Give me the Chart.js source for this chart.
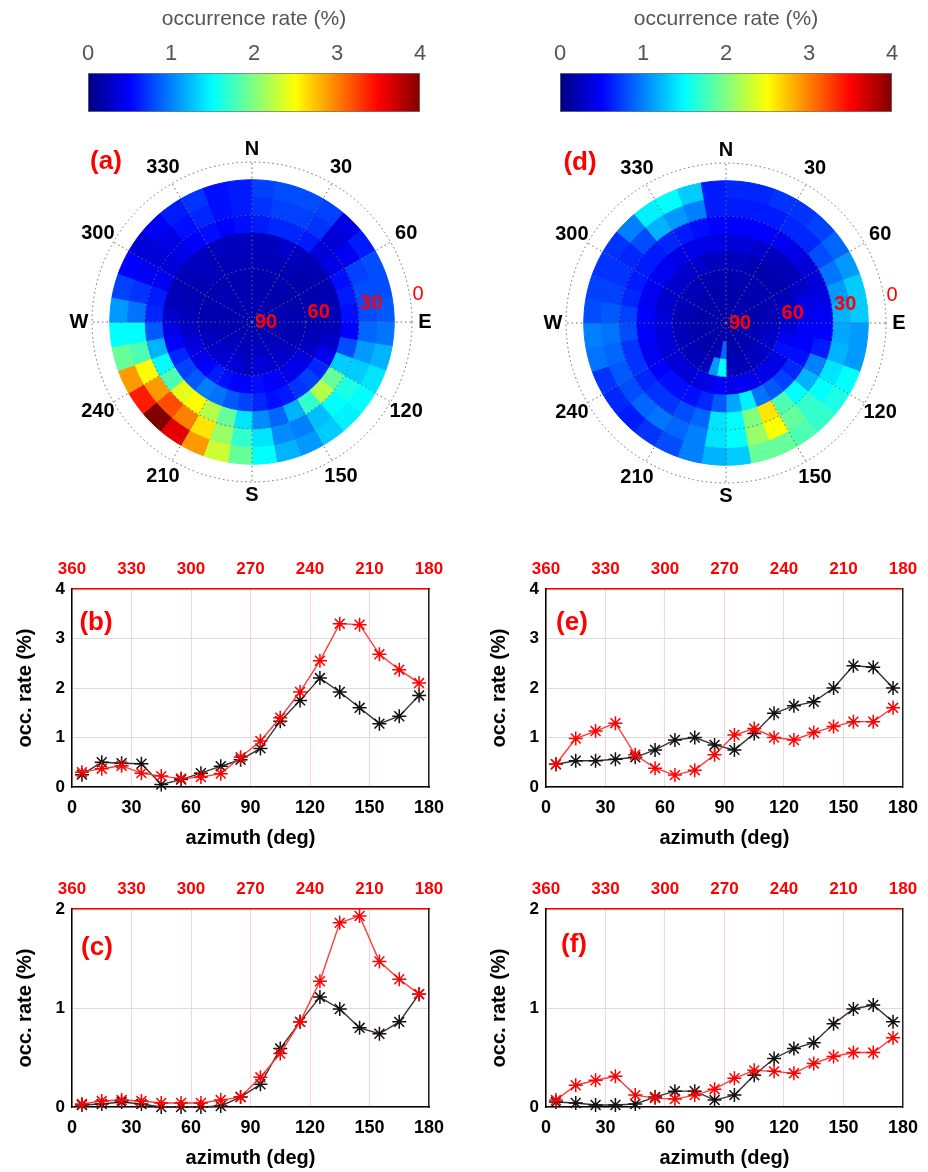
<!DOCTYPE html>
<html>
<head>
<meta charset="utf-8">
<script src="https://cdn.jsdelivr.net/npm/chart.js@4.4.1/dist/chart.umd.min.js"></script>
<style>
  html, body { margin: 0; padding: 0; background: #fff; }
  body { width: 928px; height: 1172px; position: relative; overflow: hidden; }
  .box { position: absolute; }
</style>
</head>
<body>
<div class="box" style="left:60px;top:0;width:390px;height:115px"><canvas id="cbA"></canvas></div>
<div class="box" style="left:532px;top:0;width:390px;height:115px"><canvas id="cbD"></canvas></div>
<div class="box" style="left:52px;top:122px;width:400px;height:400px"><canvas id="polA"></canvas></div>
<div class="box" style="left:526px;top:123px;width:400px;height:400px"><canvas id="polD"></canvas></div>
<div class="box" style="left:0;top:545px;width:460px;height:305px"><canvas id="lineB"></canvas></div>
<div class="box" style="left:474px;top:545px;width:454px;height:305px"><canvas id="lineE"></canvas></div>
<div class="box" style="left:0;top:865px;width:460px;height:305px"><canvas id="lineC"></canvas></div>
<div class="box" style="left:474px;top:865px;width:454px;height:305px"><canvas id="lineF"></canvas></div>
<script>
Chart.defaults.font.family = '"Liberation Sans", Arial, sans-serif';
const FONT = '"Liberation Sans", Arial, sans-serif';

// ---- polar maps: azimuth sectors (deg, clockwise from N) and elevation rings (lower edge, deg)
const azBins = [0, 10, 20, 30, 40, 50, 60, 70, 80, 90, 100, 110, 120, 130, 140, 150, 160, 170,
  180, 190, 200, 210, 220, 230, 240, 250, 260, 270, 280, 290, 300, 310, 320, 330, 340, 350];
const elevBins = [80, 70, 60, 50, 40, 30, 20, 10];
const azimuthNames = ['N', '30', '60', 'E', '120', '150', 'S', '210', '240', 'W', '300', '330'];
const elevTicks = [0, 30, 60, 90];

// occurrence rate (%) in each cell of (a), one array per elevation ring
const a10 = [0.75,0.8,0.8,0.75,0.4,0.6,0.8,0.8,0.85,0.95, 1.2,1.4,1.5,1.45,1.3,1.1,1.2,1.5,1.9,2.3, 2.9,3.6,4.0,3.4,2.9,1.9,1.5,1.1,0.75,0.5, 0.35,0.45,0.6,0.7,0.55,0.6];
const a20 = [0.7,0.75,0.75,0.7,0.35,0.45,0.75,0.8,0.8,0.9, 1.1,1.3,1.6,1.5,1.25,1.0,1.05,1.4,1.7,2.1, 2.6,3.0,3.2,2.9,2.5,1.8,1.5,0.95,0.7,0.45, 0.35,0.4,0.55,0.65,0.55,0.6];
const a30 = [0.6,0.65,0.65,0.6,0.35,0.4,0.55,0.6,0.55,0.5, 0.8,1.3,1.9,2.2,1.7,1.2,0.9,1.05,1.4,1.9, 2.2,2.5,2.4,1.8,1.5,1.2,0.85,0.65,0.6,0.45, 0.35,0.4,0.5,0.55,0.5,0.55];
const a40 = [0.25,0.25,0.3,0.25,0.2,0.2,0.2,0.2,0.22,0.22, 0.3,0.45,0.65,0.75,0.7,0.6,0.55,0.65,0.75,0.85, 0.95,1.0,0.85,0.75,0.65,0.5,0.4,0.3,0.22,0.22, 0.22,0.25,0.25,0.25,0.25,0.25];
const a50 = [0.22,0.22,0.22,0.2,0.18,0.18,0.18,0.18,0.2,0.2, 0.22,0.28,0.38,0.42,0.42,0.48,0.5,0.55,0.5,0.5, 0.55,0.6,0.5,0.42,0.38,0.32,0.28,0.22,0.2,0.2, 0.2,0.22,0.22,0.22,0.22,0.22];
const a60 = [0.2,0.2,0.2,0.18,0.18,0.18,0.18,0.18,0.2,0.2, 0.2,0.22,0.25,0.28,0.3,0.3,0.35,0.35,0.25,0.3, 0.35,0.35,0.3,0.3,0.25,0.25,0.2,0.2,0.2,0.2, 0.2,0.2,0.2,0.2,0.2,0.2];
const a70 = [0.2,0.2,0.2,0.2,0.18,0.18,0.2,0.2,0.2,0.2, 0.2,0.2,0.22,0.25,0.25,0.25,0.25,0.3,0.22,0.25, 0.25,0.25,0.25,0.22,0.2,0.2,0.2,0.2,0.2,0.2, 0.2,0.2,0.2,0.2,0.2,0.2];
const a80 = [0.2,0.2,0.2,0.2,0.2,0.2,0.2,0.2,0.2,0.2, 0.2,0.2,0.2,0.2,0.2,0.2,0.2,0.2,0.2,0.2, 0.2,0.2,0.2,0.2,0.2,0.2,0.2,0.2,0.2,0.2, 0.2,0.2,0.2,0.2,0.2,0.2];

// same for (d)
const d10 = [0.65,0.65,0.7,0.7,0.75,0.9,1.1,1.3,1.3,1.1, 1.1,1.5,1.6,1.7,1.8,1.9,1.9,1.3,1.2,1.0, 0.8,0.7,0.6,0.65,0.7,0.95,1.0,0.8,0.75,0.7, 0.7,1.0,1.45,1.5,1.3,0.6];
const d20 = [0.6,0.6,0.6,0.65,0.65,0.8,0.95,1.1,1.2,1.15, 1.2,1.4,1.5,1.7,1.9,2.5,2.1,1.5,1.4,1.0, 0.9,0.95,0.9,0.8,0.85,0.9,0.95,0.85,0.75,0.7, 0.65,0.8,1.2,1.1,1.0,0.6];
const d30 = [0.5,0.5,0.5,0.45,0.4,0.35,0.35,0.4,0.45,0.5, 0.6,1.0,1.2,1.5,1.8,2.6,2.0,1.5,1.4,0.9, 0.8,0.7,0.7,0.65,0.7,0.7,0.8,0.75,0.65,0.6, 0.6,0.6,0.65,0.6,0.55,0.5];
const d40 = [0.35,0.35,0.3,0.25,0.22,0.22,0.28,0.38,0.42,0.48, 0.5,0.55,0.65,0.75,0.85,0.95,1.45,1.15,0.85,0.65, 0.55,0.55,0.55,0.5,0.45,0.45,0.5,0.5,0.45,0.45, 0.45,0.45,0.4,0.4,0.4,0.4];
const d50 = [0.25,0.25,0.2,0.18,0.18,0.18,0.22,0.25,0.3,0.35, 0.45,0.55,0.4,0.4,0.4,0.42,0.45,0.42,0.5,0.42, 0.38,0.35,0.35,0.35,0.35,0.35,0.35,0.35,0.3,0.3, 0.3,0.3,0.3,0.3,0.25,0.25];
const d60 = [0.2,0.2,0.2,0.2,0.2,0.2,0.2,0.2,0.22,0.25, 0.3,0.3,0.28,0.25,0.25,0.22,0.22,0.22,1.5,1.1, 0.25,0.22,0.22,0.22,0.22,0.22,0.22,0.22,0.22,0.22, 0.22,0.22,0.22,0.2,0.2,0.2];
const d70 = [0.18,0.18,0.18,0.18,0.18,0.18,0.18,0.18,0.18,0.2, 0.22,0.22,0.2,0.2,0.2,0.18,0.18,0.18,0.9,0.22, 0.18,0.18,0.18,0.18,0.18,0.18,0.18,0.18,0.18,0.18, 0.18,0.18,0.18,0.18,0.18,0.18];
const d80 = [0.18,0.18,0.18,0.18,0.18,0.18,0.18,0.18,0.18,0.18, 0.18,0.18,0.18,0.18,0.18,0.18,0.18,0.18,0.18,0.18, 0.18,0.18,0.18,0.18,0.18,0.18,0.18,0.18,0.18,0.18, 0.18,0.18,0.18,0.18,0.18,0.18];

// ---- azimuth profiles: bin centres, east half (bottom axis) and west half (top axis)
const azEast = [5, 15, 25, 35, 45, 55, 65, 75, 85, 95, 105, 115, 125, 135, 145, 155, 165, 175];
const azWest = [355, 345, 335, 325, 315, 305, 295, 285, 275, 265, 255, 245, 235, 225, 215, 205, 195, 185];
const bBlack = [0.25, 0.5, 0.48, 0.47, 0.05, 0.15, 0.28, 0.42, 0.55, 0.78, 1.33, 1.75, 2.2, 1.92, 1.6, 1.28, 1.43, 1.85];
const bRed   = [0.3, 0.37, 0.43, 0.28, 0.22, 0.17, 0.2, 0.27, 0.6, 0.93, 1.4, 1.92, 2.55, 3.3, 3.28, 2.68, 2.37, 2.1];
const cBlack = [0.02, 0.03, 0.05, 0.03, 0.0, 0.0, 0.0, 0.01, 0.1, 0.23, 0.59, 0.86, 1.11, 0.99, 0.8, 0.74, 0.86, 1.14];
const cRed   = [0.03, 0.06, 0.07, 0.06, 0.04, 0.04, 0.04, 0.07, 0.1, 0.3, 0.54, 0.86, 1.27, 1.86, 1.93, 1.47, 1.29, 1.14];
const eBlack = [0.46, 0.53, 0.53, 0.56, 0.6, 0.75, 0.95, 1.0, 0.85, 0.75, 1.08, 1.49, 1.64, 1.72, 2.0, 2.45, 2.42, 2.0];
const eRed   = [0.46, 0.98, 1.13, 1.29, 0.65, 0.38, 0.24, 0.34, 0.65, 1.05, 1.18, 1.0, 0.95, 1.1, 1.22, 1.32, 1.32, 1.6];
const fBlack = [0.05, 0.04, 0.02, 0.02, 0.03, 0.1, 0.16, 0.16, 0.07, 0.12, 0.32, 0.49, 0.59, 0.65, 0.84, 0.99, 1.03, 0.86];
const fRed   = [0.07, 0.22, 0.27, 0.31, 0.12, 0.09, 0.08, 0.12, 0.18, 0.29, 0.37, 0.36, 0.34, 0.44, 0.51, 0.55, 0.55, 0.70];

const rateMax = 4;

function jet(v) {
  const t = Math.min(1, Math.max(0, v / rateMax));
  const c = x => Math.round(255 * Math.min(1, Math.max(0, 1.5 - Math.abs(4 * t - x))));
  return 'rgb(' + c(3) + ',' + c(2) + ',' + c(1) + ')';
}

// colour bars
function makeColorbar(id) {
  new Chart(document.getElementById(id), {
    type: 'bar',
    data: {
      labels: ['rate'],
      datasets: [{
        data: [[0, rateMax]],
        backgroundColor: (c) => {
          const ch = c.chart;
          if (!ch.chartArea) return '#00f';
          const x = ch.scales.x;
          const g = ch.ctx.createLinearGradient(x.getPixelForValue(0), 0, x.getPixelForValue(rateMax), 0);
          [0, 0.125, 0.25, 0.375, 0.5, 0.625, 0.75, 0.875, 1].forEach(t => g.addColorStop(t, jet(t * rateMax)));
          return g;
        },
        borderColor: '#777',
        borderWidth: 1,
        borderSkipped: false,
        barPercentage: 1,
        categoryPercentage: 1
      }]
    },
    options: {
      indexAxis: 'y',
      animation: false, responsive: true, maintainAspectRatio: false, events: [],
      layout: { padding: { left: 28, right: 30, top: 0, bottom: 3 } },
      plugins: { legend: { display: false }, tooltip: { enabled: false } },
      scales: {
        x: {
          type: 'linear', position: 'top', min: 0, max: rateMax,
          ticks: { stepSize: 1, color: '#555', font: { size: 22 }, padding: 6 },
          grid: { display: false, drawTicks: false },
          border: { display: false },
          title: { display: true, text: 'occurrence rate (%)', color: '#555', font: { size: 21 }, padding: { top: 7, bottom: 0 } },
          afterFit: s => { s.height = 73; }
        },
        y: { display: false }
      }
    }
  });
}

const polarDeco = {
  id: 'polarDeco',
  afterDraw(chart, args, opts) {
    const r = chart.scales.r;
    const ctx = chart.ctx;
    ctx.save();
    ctx.textAlign = 'center';
    ctx.textBaseline = 'middle';
    ctx.fillStyle = '#000';
    ctx.font = 'bold 20px ' + FONT;
    azimuthNames.forEach((name, k) => {
      const p = r.getPointPosition(k * 3, r.drawingArea + (k % 3 === 0 ? 13 : 18));
      ctx.fillText(name, p.x, p.y);
    });
    ctx.fillStyle = '#ff0000';
    ctx.textAlign = 'left';
    elevTicks.forEach(e => {
      const p = r.getPointPositionForValue(8, e);
      ctx.font = (e === 0 ? '' : 'bold ') + '20px ' + FONT;
      ctx.fillText(String(e), p.x + 3, p.y);
    });
    ctx.textAlign = 'center';
    ctx.font = 'bold 26px ' + FONT;
    ctx.fillText(opts.tag, r.xCenter - 146, r.yCenter - 160);
    ctx.restore();
  }
};

function makePolar(id, tag, rings) {
  const datasets = elevBins.map((e, i) => {
    const colors = rings[i].map(jet);
    return {
      data: azBins.map(() => e),
      backgroundColor: colors,
      borderColor: colors,
      borderWidth: 1
    };
  });
  new Chart(document.getElementById(id), {
    type: 'polarArea',
    data: { labels: azBins.map(String), datasets: datasets },
    options: {
      animation: false, responsive: true, maintainAspectRatio: false, events: [],
      layout: { padding: 40 },
      plugins: { legend: { display: false }, tooltip: { enabled: false }, polarDeco: { tag: tag } },
      scales: {
        r: {
          min: 0, max: 90, reverse: true, startAngle: 0,
          ticks: { display: false, stepSize: 30, reverse: true },
          grid: { z: 1, circular: true, color: '#6a6a6a', lineWidth: 1 },
          border: { dash: [1.5, 3] },
          angleLines: {
            display: true, lineWidth: 1, borderDash: [1.5, 3],
            color: (c) => (c.index % 3 === 0 ? '#6a6a6a' : 'rgba(0,0,0,0)')
          },
          pointLabels: { display: false }
        }
      }
    },
    plugins: [polarDeco]
  });
}

const tagPlugin = {
  id: 'tagPlugin',
  afterDraw(chart, args, opts) {
    const ctx = chart.ctx;
    const a = chart.chartArea;
    ctx.save();
    ctx.fillStyle = '#ff0000';
    ctx.font = 'bold 26px ' + FONT;
    ctx.textAlign = 'center';
    ctx.textBaseline = 'middle';
    ctx.fillText(opts.tag, a.left + opts.dx, a.top + opts.dy);
    ctx.restore();
  }
};

function makeLine(id, tag, blackVals, redVals, yMax, rightPad, tagDx, tagDy) {
  new Chart(document.getElementById(id), {
    type: 'line',
    data: {
      datasets: [
        {
          data: azWest.map((x, i) => ({ x: x, y: redVals[i] })),
          xAxisID: 'xTop', yAxisID: 'y',
          borderColor: '#ff3b3b', borderWidth: 1.4,
          pointStyle: 'star', pointRadius: 7, pointBorderColor: '#ff0000', pointBorderWidth: 1.5,
          pointBackgroundColor: '#ff0000',
          tension: 0, clip: false
        },
        {
          data: azEast.map((x, i) => ({ x: x, y: blackVals[i] })),
          xAxisID: 'x', yAxisID: 'y',
          borderColor: '#333', borderWidth: 1.4,
          pointStyle: 'star', pointRadius: 7, pointBorderColor: '#111', pointBorderWidth: 1.5,
          pointBackgroundColor: '#111',
          tension: 0, clip: false
        }
      ]
    },
    options: {
      animation: false, responsive: true, maintainAspectRatio: false, events: [],
      layout: { padding: { left: 0, right: rightPad, top: 0, bottom: 0 } },
      plugins: { legend: { display: false }, tooltip: { enabled: false }, tagPlugin: { tag: tag, dx: tagDx, dy: tagDy } },
      scales: {
        x: {
          type: 'linear', position: 'bottom', min: 0, max: 180,
          ticks: { stepSize: 30, color: '#000', font: { size: 18, weight: 'bold' }, padding: 10 },
          grid: { display: false, drawTicks: false },
          border: { color: '#000', width: 1.5 },
          title: { display: true, text: 'azimuth (deg)', color: '#000', font: { size: 20, weight: 'bold' }, padding: { top: 0, bottom: 0 } },
          afterFit: s => { s.height = 63; }
        },
        xTop: {
          type: 'linear', position: 'top', min: 180, max: 360, reverse: true,
          ticks: { stepSize: 30, color: '#ff0000', font: { size: 17, weight: 'bold' }, padding: 9 },
          grid: { color: 'rgba(255,0,0,0.18)', drawTicks: false },
          border: { color: '#ff0000', width: 1.5 },
          afterFit: s => { s.height = 44; }
        },
        y: {
          min: 0, max: yMax,
          ticks: { stepSize: 1, color: '#000', font: { size: 17, weight: 'bold' }, padding: 7 },
          grid: { color: '#dcdcdc', drawTicks: false },
          border: { color: '#000', width: 1.5 },
          title: { display: true, text: 'occ. rate (%)', color: '#000', font: { size: 20, weight: 'bold' }, padding: { top: 13, bottom: 0 } },
          afterFit: s => { s.width = 72; }
        },
        yR: {
          position: 'right', min: 0, max: yMax,
          ticks: { display: false },
          grid: { display: false, drawTicks: false },
          border: { color: '#222', width: 1.5 },
          afterFit: s => { s.width = 0; }
        }
      }
    },
    plugins: [tagPlugin]
  });
}

makeColorbar('cbA');
makeColorbar('cbD');
makePolar('polA', '(a)', [a80, a70, a60, a50, a40, a30, a20, a10]);
makePolar('polD', '(d)', [d80, d70, d60, d50, d40, d30, d20, d10]);
makeLine('lineB', '(b)', bBlack, bRed, 4, 31, 24, 34);
makeLine('lineE', '(e)', eBlack, eRed, 4, 25, 26, 34);
makeLine('lineC', '(c)', cBlack, cRed, 2, 31, 25, 39);
makeLine('lineF', '(f)', fBlack, fRed, 2, 25, 28, 36);
</script>
</body>
</html>
